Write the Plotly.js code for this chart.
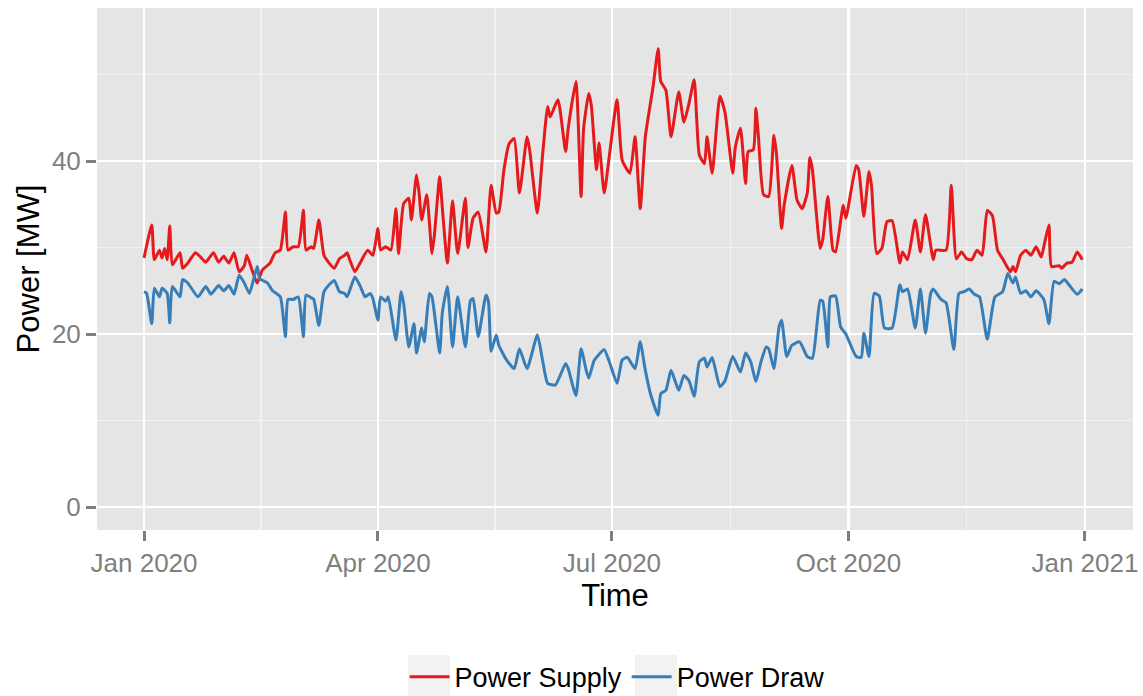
<!DOCTYPE html>
<html>
<head>
<meta charset="utf-8">
<script src="https://cdn.plot.ly/plotly-3.0.1.min.js"></script>
<style>html,body{margin:0;padding:0;background:#fff;}#chart{width:1143px;height:696px;}</style>
</head>
<body>
<div id="chart"></div>
<script>
// ---- Data (day offset from 2020-01-01, value in MW) ----
const supplyDays = [0,3,4,6,7,8,9,10,11,14,15,17,20,22,24,27,29,31,33,35,37,39,40,42,44,46,49,51,53,55,56,58,
  60,62,63,65,66,68,70,72,74,76,78,79,80,82,84,87,89,91,92,94,96,98,99,101,103,104,106,107,108,110,112,113,115,116,118,120,
  122,125,126,128,130,133,135,137,138,140,142,144,146,149,150,153,155,157,158,161,164,165,168,170,171,173,174,176,177,179,181,184,
  186,189,191,193,195,198,200,201,203,205,208,210,212,214,216,218,219,221,224,226,229,230,232,234,235,237,238,239,241,243,
  245,246,248,249,252,254,256,258,259,260,263,264,266,268,269,272,273,277,278,280,282,283,285,287,289,291,294,295,297,300,302,304,
  307,308,312,314,316,318,320,322,324,326,328,330,332,334,337,338,339,341,343,345,347,349,350,352,353,356,357,359,361,363,365];
const supplyValues = [28.8,32.6,28.6,29.7,28.8,29.9,28.6,32.5,28.0,29.4,27.6,28.2,29.4,28.9,28.3,29.4,28.3,29.0,28.2,29.4,27.2,27.9,29.1,27.4,25.9,27.4,28.2,29.4,29.7,34.1,29.7,30.1,
  30.1,34.3,29.7,30.1,29.9,33.2,29.1,28.2,27.6,28.7,29.1,29.4,28.6,27.2,28.2,29.7,29.1,32.2,29.7,30.1,29.7,34.5,29.3,35.1,35.7,33.2,38.4,36.3,33.2,36.1,29.3,31.6,38.2,34.7,28.2,35.4,
  29.3,35.7,30.0,33.4,34.1,29.5,37.2,34.0,34.1,39.0,42.0,42.6,36.3,42.8,41.3,34.0,40.6,46.3,45.1,47.1,41.1,43.8,49.2,35.9,43.8,47.8,46.4,39.0,42.1,36.3,40.6,47.1,
  40.1,38.6,42.8,34.5,42.8,48.6,53.0,49.2,48.2,42.8,48.0,44.5,46.7,49.4,40.7,39.7,42.8,38.6,47.5,45.6,38.6,41.6,43.8,37.4,41.1,41.3,46.1,42.8,36.1,35.9,
  43.0,40.9,32.2,34.9,39.5,35.5,34.5,36.3,40.4,39.0,29.9,30.9,35.9,29.7,29.5,34.9,33.4,39.5,39.0,33.6,38.8,37.1,29.3,29.9,33.0,33.1,28.2,29.5,28.6,33.2,29.5,33.8,
  28.6,29.7,29.7,37.2,28.7,29.5,28.7,28.6,29.7,29.1,34.3,33.7,29.7,28.7,27.2,27.8,27.2,29.1,29.7,29.1,30.1,28.9,30.1,32.6,27.8,27.9,27.6,28.2,28.3,29.5,28.6];

const drawDays = [0,1,3,4,6,7,9,10,11,14,15,17,21,24,26,29,31,33,35,37,39,41,44,45,48,50,53,55,56,58,60,62,63,65,66,68,70,72,74,76,78,79,82,84,86,
  88,89,91,92,94,95,98,100,101,103,105,106,108,109,111,112,115,116,118,120,122,125,127,128,130,133,134,135,137,138,141,144,146,149,153,155,157,160,
  164,165,168,170,172,173,175,176,179,181,184,186,188,191,193,195,197,200,201,203,205,208,210,212,214,216,218,219,221,224,226,229,232,234,236,238,240,
  242,243,245,247,248,250,252,255,258,260,263,264,266,267,269,271,273,277,279,280,282,284,286,288,291,294,295,297,300,302,304,306,307,310,312,315,
  317,319,321,323,325,328,331,334,336,338,339,341,343,345,347,350,352,354,356,358,360,363,365];
const drawValues = [24.9,24.7,21.2,25.3,24.3,25.3,24.7,21.3,25.5,24.3,26.3,25.9,24.3,25.5,24.6,25.6,25.0,25.6,24.6,26.8,25.9,24.7,27.8,26.4,25.9,25.0,24.3,19.7,24.0,24.0,24.3,19.7,24.5,24.2,24.0,21.0,24.9,25.7,26.2,24.9,24.7,24.3,26.6,25.6,24.3,
  24.7,24.1,21.6,24.3,23.8,24.3,19.3,24.9,23.5,18.5,21.2,17.8,20.7,19.1,24.7,24.3,17.8,22.4,25.5,18.5,24.3,18.5,23.9,24.1,19.7,24.5,23.7,18.0,19.9,18.7,17.0,16.0,18.3,16.0,19.9,17.0,14.3,14.1,
  16.6,16.0,12.9,18.3,15.8,14.9,16.9,17.3,18.2,16.8,14.3,17.0,17.3,16.0,19.1,15.8,13.1,10.6,13.1,13.5,15.8,13.5,15.2,14.6,12.8,16.8,17.2,16.2,17.3,13.9,14.6,17.4,15.6,17.8,16.8,14.5,16.8,
  18.5,18.3,16.0,20.8,21.6,17.4,18.7,19.1,17.4,17.2,23.9,23.8,18.5,24.3,24.4,20.8,20.0,17.4,17.3,20.1,17.4,24.7,24.4,20.7,20.7,25.7,24.9,25.2,20.7,25.2,20.1,24.7,25.2,24.0,23.6,18.2,
  24.7,24.9,25.2,24.6,24.3,19.4,24.3,24.9,27.0,25.9,26.6,24.7,25.0,24.3,25.0,24.0,21.2,26.1,25.8,26.3,25.6,24.6,25.2];

const xTickDates = ['2020-01-01','2020-04-01','2020-07-01','2020-10-01','2021-01-01'];
const xTickLabels = ['Jan 2020','Apr 2020','Jul 2020','Oct 2020','Jan 2021'];
const yTickVals = [0, 20, 40];
const seriesNames = ['Power Supply', 'Power Draw'];

// ---- helpers ----
const DAY = 86400000;
const T0 = Date.UTC(2020, 0, 1);
function dayToDate(d) { return new Date(T0 + d * DAY).toISOString().slice(0, 19).replace('T', ' '); }
function mid(a, b) { return dayToDate(((Date.parse(a) + Date.parse(b)) / 2 - T0) / DAY); }
const xMinor = [];
for (let i = 0; i < xTickDates.length - 1; i++) xMinor.push(mid(xTickDates[i], xTickDates[i + 1]));
const yMinor = [];
for (let i = 0; i < yTickVals.length; i++) yMinor.push(yTickVals[i] + 10);

const grey = '#7F7F7F';
const FONT = 'Liberation Sans, Arial, Helvetica, sans-serif';

const traces = [
  { x: supplyDays.map(dayToDate), y: supplyValues, name: seriesNames[0], type: 'scatter', mode: 'lines',
    line: { color: '#E41A1C', width: 3, shape: 'spline', smoothing: 0.5 } },
  { x: drawDays.map(dayToDate), y: drawValues, name: seriesNames[1], type: 'scatter', mode: 'lines',
    line: { color: '#377EB8', width: 3, shape: 'spline', smoothing: 0.5 } }
];

// legend key background squares (decoration, ggplot-style)
function keyBox(x0, x1) {
  return { type: 'rect', xref: 'paper', yref: 'paper', x0: x0, x1: x1, y0: -0.320, y1: -0.2395,
           layer: 'below', fillcolor: '#F2F2F2', line: { width: 0 } };
}

const layout = {
  width: 1143, height: 696,
  margin: { l: 97, r: 10, t: 8, b: 166, autoexpand: false },
  paper_bgcolor: '#FFFFFF',
  plot_bgcolor: '#E5E5E5',
  font: { family: FONT, color: '#000' },
  showlegend: true,
  legend: { orientation: 'h', x: 0.502, xanchor: 'center', y: -0.282, yanchor: 'middle',
            font: { size: 27, color: '#000', family: FONT }, itemwidth: 40, tracegroupgap: 0, bgcolor: 'rgba(0,0,0,0)' },
  shapes: [keyBox(0.3002, 0.3407), keyBox(0.5193, 0.5598)],
  xaxis: {
    type: 'date', automargin: false,
    range: [dayToDate(-18.3), dayToDate(384.7)],
    tickmode: 'array', tickvals: xTickDates, ticktext: xTickLabels,
    showgrid: true, gridcolor: '#FFFFFF', gridwidth: 2.5,
    zeroline: false, showline: false,
    ticks: 'outside', ticklen: 10, tickwidth: 3, tickcolor: grey,
    tickfont: { size: 26, color: grey, family: FONT },
    minor: { tickmode: 'array', tickvals: xMinor, showgrid: true, gridcolor: '#F2F2F2', gridwidth: 1.2, ticks: '' },
    title: { text: 'Time', font: { size: 31, color: '#000', family: FONT }, standoff: 3 }
  },
  yaxis: {
    automargin: false,
    range: [-2.66, 57.7],
    tickmode: 'array', tickvals: yTickVals, ticktext: yTickVals.map(String),
    showgrid: true, gridcolor: '#FFFFFF', gridwidth: 2.5,
    zeroline: false, showline: false,
    ticks: 'outside', ticklen: 10, tickwidth: 3, tickcolor: grey,
    tickfont: { size: 26, color: grey, family: FONT },
    minor: { tickmode: 'array', tickvals: yMinor, showgrid: true, gridcolor: '#F2F2F2', gridwidth: 1.2, ticks: '' },
    title: { text: 'Power [MW]', font: { size: 31, color: '#000', family: FONT }, standoff: 3 }
  }
};

Plotly.newPlot('chart', traces, layout, { staticPlot: true, displayModeBar: false });
</script>
</body>
</html>
